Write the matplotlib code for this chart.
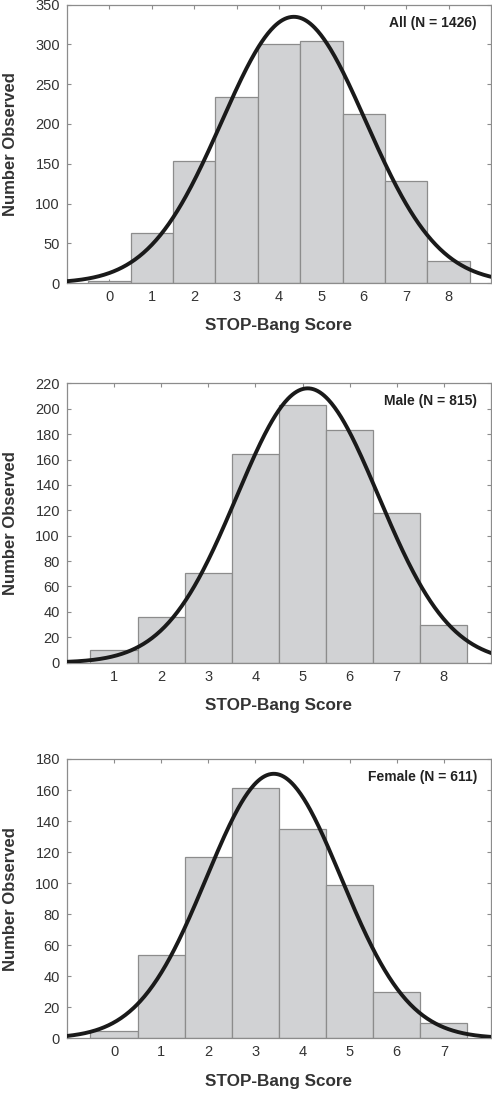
import matplotlib.pyplot as plt
import numpy as np

# histogram counts per STOP-Bang score
all_scores = [0, 1, 2, 3, 4, 5, 6, 7, 8]
all_counts = [3, 63, 154, 234, 300, 304, 212, 128, 28]

male_scores = [1, 2, 3, 4, 5, 6, 7, 8]
male_counts = [10, 36, 71, 164, 203, 183, 118, 30]

female_scores = [0, 1, 2, 3, 4, 5, 6, 7]
female_counts = [5, 54, 117, 161, 135, 99, 30, 10]

# fitted normal curves (mean, sd)
all_fit = (4.35, 1.70)
male_fit = (5.11, 1.505)
female_fit = (3.39, 1.43)

panels = [
    ("All (N = 1426)", all_scores, all_counts, all_fit, (-1, 9), 350, 50, [0.136, 0.741, 0.862, 0.2548]),
    ("Male (N = 815)", male_scores, male_counts, male_fit, (0, 9), 220, 20, [0.136, 0.3937, 0.862, 0.2556]),
    ("Female (N = 611)", female_scores, female_counts, female_fit, (-1, 8), 180, 20, [0.136, 0.050, 0.862, 0.2556]),
]

plt.rcParams['font.family'] = ['Liberation Sans', 'DejaVu Sans']

fig = plt.figure(figsize=(4.92, 10.93), dpi=100)

for label, scores, counts, fit, xlim, ymax, ystep, pos in panels:
    ax = fig.add_axes(pos)
    ax.bar(scores, counts, width=1.0, color='#d1d2d4', edgecolor='#8c8c8c', linewidth=0.9, zorder=2)

    n = sum(counts)
    mu, sd = fit
    xs = np.linspace(xlim[0], xlim[1], 400)
    ys = n / (sd * np.sqrt(2 * np.pi)) * np.exp(-(xs - mu) ** 2 / (2 * sd ** 2))
    ax.plot(xs, ys, color='#1a1a1a', linewidth=2.8, zorder=3)

    ax.set_xlim(*xlim)
    ax.set_ylim(0, ymax)
    ax.set_xticks(scores)
    ax.set_yticks(np.arange(0, ymax + 1, ystep))
    ax.tick_params(direction='in', length=3, width=0.8, color='#8c8c8c',
                   top=True, right=True, labelsize=10.5, labelcolor='#333333', pad=5)
    for s in ax.spines.values():
        s.set_color('#8c8c8c')
        s.set_linewidth(0.9)

    ax.set_xlabel('STOP-Bang Score', fontsize=12.3, fontweight='bold', color='#333333')
    ax.set_ylabel('Number Observed', fontsize=12, fontweight='bold', color='#333333',
                  va='center')
    ax.xaxis.set_label_coords(0.5, -0.127)
    ax.yaxis.set_label_coords(-0.132, 0.5)

    ax.text(0.967, 0.935, label, transform=ax.transAxes, ha='right', va='center',
            fontsize=10, fontweight='bold', color='#222222')

fig.savefig('out.png', dpi=100)
